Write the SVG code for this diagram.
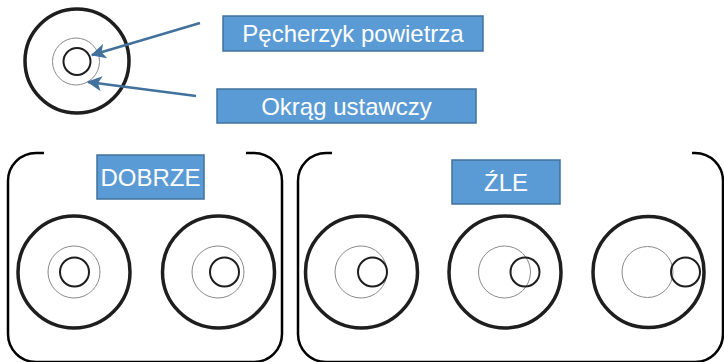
<svg xmlns="http://www.w3.org/2000/svg" width="724" height="362" viewBox="0 0 724 362">
<style>
.outer{fill:none;stroke:#1e1e1e;stroke-width:3.5}
.guide{fill:none;stroke:#8a8a8a;stroke-width:1}
.bubble{fill:none;stroke:#1e1e1e;stroke-width:2}
.panel{fill:none;stroke:#000;stroke-width:2.5}
.box{fill:#5B9BD5;stroke:#41719C;stroke-width:1.5}
.lbl{font-family:"Liberation Sans",Arial,sans-serif;font-size:24px;fill:#fff;text-anchor:middle}
.arrow{stroke:#41719C;stroke-width:2.5;fill:none;marker-end:url(#ah)}
</style>
<defs>
<marker id="ah" viewBox="0 0 12 12" refX="11" refY="6" markerWidth="6" markerHeight="6" orient="auto" markerUnits="strokeWidth">
<path d="M0,0 L12,6 L0,12 L3,6 Z" fill="#41719C"/>
</marker>
</defs>
<rect width="724" height="362" fill="#fff"/>
<g id="legend-level">
<circle class="outer" cx="77" cy="61" r="52"/>
<circle class="guide" cx="76" cy="61.5" r="23.5"/>
<circle class="bubble" cx="77" cy="61.5" r="13.5"/>
</g>
<g id="label-bubble">
<rect class="box" x="223" y="16" width="260" height="35"/>
<text class="lbl" x="353" y="42">Pęcherzyk powietrza</text>
</g>
<g id="label-circle">
<rect class="box" x="217" y="89" width="259" height="34"/>
<text class="lbl" x="346.5" y="114.5">Okrąg ustawczy</text>
</g>
<g id="connectors">
<line class="arrow" x1="200" y1="23" x2="92" y2="55"/>
<line class="arrow" x1="196" y1="96" x2="88" y2="82"/>
</g>
<g id="panel-good">
<path class="panel" d="M44,153 H36 A28,28 0 0 0 8,181 V334 A28,28 0 0 0 36,362 H254 A28,28 0 0 0 282,334 V181 A28,28 0 0 0 254,153 H246"/>
<rect class="box" x="97" y="155" width="107" height="44"/>
<text class="lbl" x="150.5" y="185.5">DOBRZE</text>
<g id="good-1">
<circle class="outer" cx="74" cy="272" r="56"/>
<circle class="guide" cx="74" cy="272" r="26"/>
<circle class="bubble" cx="74.5" cy="272" r="14.5"/>
</g>
<g id="good-2">
<circle class="outer" cx="218.5" cy="272" r="56"/>
<circle class="guide" cx="218" cy="272" r="26"/>
<circle class="bubble" cx="224.5" cy="272" r="14.5"/>
</g>
</g>
<g id="panel-bad">
<path class="panel" d="M332,153 H326 A28,28 0 0 0 298,181 V334 A28,28 0 0 0 326,362 H695 A28,28 0 0 0 723,334 V181 A28,28 0 0 0 695,153 H692"/>
<rect class="box" x="452" y="160" width="108" height="44"/>
<text class="lbl" x="506" y="190.5">ŹLE</text>
<g id="bad-1">
<circle class="outer" cx="361.5" cy="272" r="56"/>
<circle class="guide" cx="361" cy="272" r="26"/>
<circle class="bubble" cx="372.5" cy="272" r="14.5"/>
</g>
<g id="bad-2">
<circle class="outer" cx="505" cy="272" r="56"/>
<circle class="guide" cx="504.5" cy="272" r="26"/>
<circle class="bubble" cx="525" cy="272" r="14.5"/>
</g>
<g id="bad-3">
<circle class="outer" cx="648.5" cy="272" r="55.5"/>
<circle class="guide" cx="647.5" cy="272" r="25.5"/>
<circle class="bubble" cx="685.5" cy="272" r="14.5"/>
</g>
</g>
</svg>
